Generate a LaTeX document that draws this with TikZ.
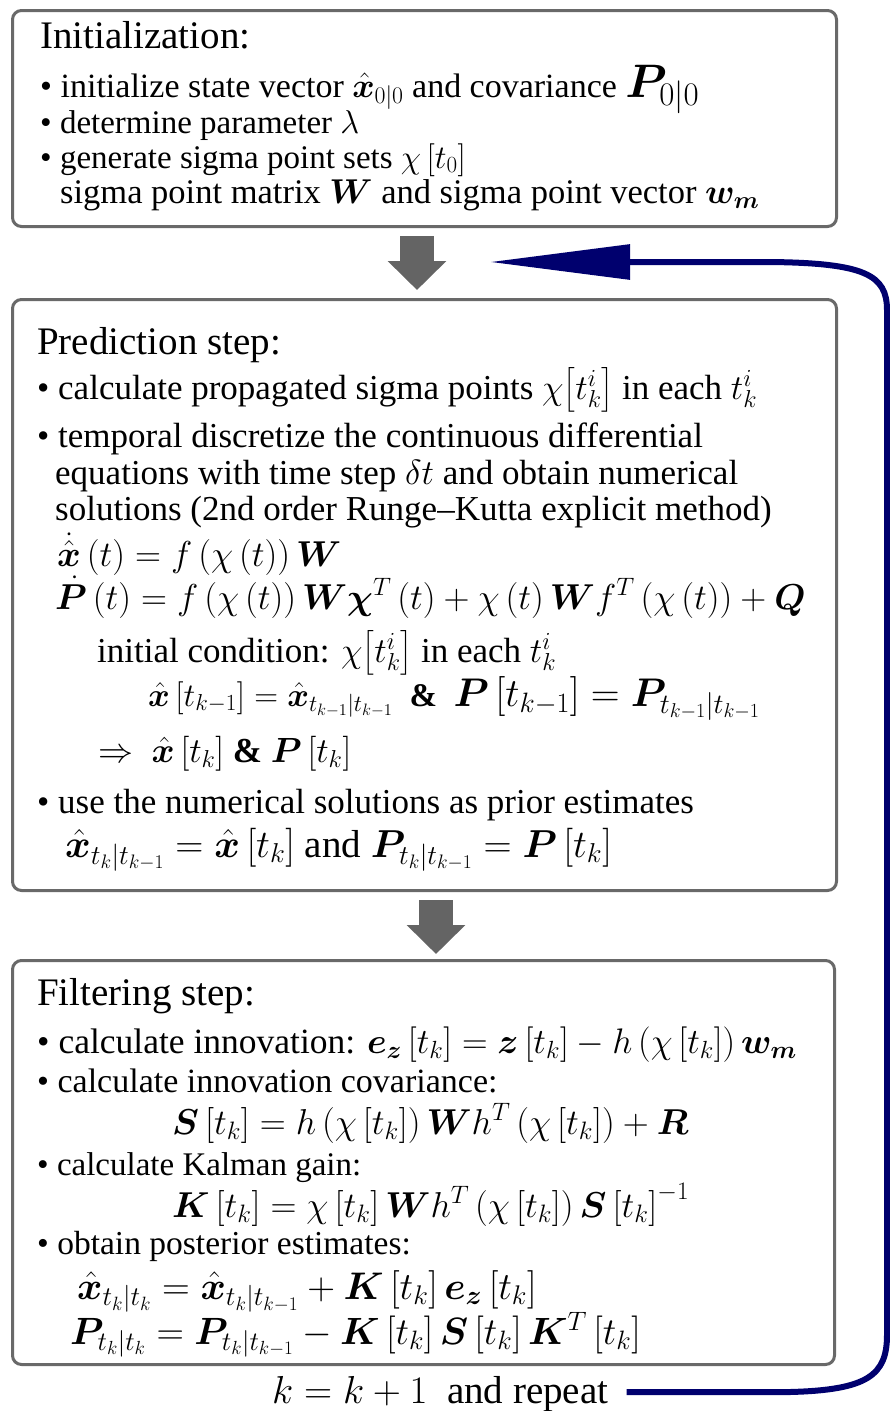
\IfFileExists{fix-cm.sty}{\RequirePackage{fix-cm}}{}
\documentclass[tikz,border=0pt]{standalone}
\usepackage{amsmath}
\usepackage{bm}
\usepackage{fontspec}
\setmainfont{Liberation Serif}
\usetikzlibrary{arrows.meta}
\definecolor{boxgray}{RGB}{105,105,105}
\definecolor{arrgray}{RGB}{100,100,100}
\definecolor{navy}{RGB}{0,0,110}
\newcommand{\sqb}[1]{\left[#1\right]}
\newcommand{\rnd}[1]{\left(#1\right)}
\newcommand{\fs}[1]{\fontsize{#1}{#1}\selectfont}
\begin{document}
\begin{tikzpicture}[x=1pt,y=-1pt,
  box/.style={draw=boxgray, line width=3pt, rounded corners=9pt, anchor=north west, inner sep=0pt},
  txt/.style={anchor=base west, inner sep=0pt, font=\fs{34}},
  ttl/.style={anchor=base west, inner sep=0pt, font=\fs{39}},
  bigarrow/.style={draw=arrgray, fill=arrgray, line width=34pt, -{Triangle[length=29pt,width=57pt]}},
  loop/.style={draw=navy, fill=none, line width=6pt, -{Triangle[length=140pt,width=34pt,fill=navy]}}
]
\useasboundingbox (0,0) rectangle (890,1411);
% boxes
\node[box, minimum width=824pt, minimum height=216pt] (b1) at (11,9) {};
\node[box, minimum width=824pt, minimum height=591pt] (b2) at (11,298) {};
\node[box, minimum width=822pt, minimum height=404pt] (b3) at (11,959) {};
% box 1 text
\node[ttl] (i0) at (40,48) {Initialization:};
\node[txt] (i1) at (40,97) {\textbullet\ initialize state vector $\hat{\bm{x}}_{0|0}$ and covariance {\fs{47}$\bm{P}_{0|0}$}};
\node[txt, font=\fs{33}] (i2) at (40,133) {\textbullet\ determine parameter $\lambda$};
\node[txt, font=\fs{33}] (i3) at (40,168) {\textbullet\ generate sigma point sets $\chi\sqb{t_0}$};
\node[txt, font=\fs{34.5}] (i4) at (60,203) {sigma point matrix $\bm{W}$ and sigma point vector $\bm{w_m}$};
% box 2 text
\node[ttl] (p0) at (37,354) {Prediction step:};
\node[txt, font=\fs{35}] (p1) at (37,399) {\textbullet\ calculate propagated sigma points $\chi\bigl[t_k^i\bigr]$ in each $t_k^i$};
\node[txt, font=\fs{35}] (p2) at (37,447) {\textbullet\ temporal discretize the continuous differential};
\node[txt, font=\fs{35}] (p3) at (55,484) {equations with time step $\delta t$ and obtain numerical};
\node[txt, font=\fs{35}] (p4) at (55,520) {solutions (2nd order Runge--Kutta explicit method)};
\node[txt, font=\fs{36}] (p5) at (57,566) {$\dot{\hat{\bm{x}}}\rnd{t} = f\rnd{\chi\rnd{t}}\bm{W}$};
\node[txt, font=\fs{36}] (p6) at (55,609) {$\dot{\bm{P}}\rnd{t} = f\rnd{\chi\rnd{t}}\bm{W}\bm{\chi}^T\rnd{t} + \chi\rnd{t}\bm{W}f^T\rnd{\chi\rnd{t}} + \bm{Q}$};
\node[txt, font=\fs{35}] (p7) at (97,662) {initial condition: $\chi\bigl[t_k^i\bigr]$ in each $t_k^i$};
\node[txt, font=\fs{33}] (p8) at (148,706) {$\hat{\bm{x}}\sqb{t_{k-1}} = \hat{\bm{x}}_{t_{k-1}|t_{k-1}}$ \ \textbf{\&} \ {\fs{40}$\bm{P}\sqb{t_{k-1}} = \bm{P}_{t_{k-1}|t_{k-1}}$}};
\node[txt, font=\fs{35}] (p9) at (98,762) {$\Rightarrow\ \hat{\bm{x}}\sqb{t_k}$ \textbf{\&} $\bm{P}\sqb{t_k}$};
\node[txt, font=\fs{35}] (p10) at (37,813) {\textbullet\ use the numerical solutions as prior estimates};
\node[txt, font=\fs{39}] (p11) at (65,857) {$\hat{\bm{x}}_{t_k|t_{k-1}} = \hat{\bm{x}}\sqb{t_k}$ and $\bm{P}_{t_k|t_{k-1}} = \bm{P}\sqb{t_k}$};
% box 3 text
\node[ttl] (f0) at (37,1005) {Filtering step:};
\node[txt, font=\fs{35.5}] (f1) at (37,1053) {\textbullet\ calculate innovation: $\bm{e_z}\sqb{t_k} = \bm{z}\sqb{t_k} - h\rnd{\chi\sqb{t_k}}\bm{w_m}$};
\node[txt] (f2) at (37,1092) {\textbullet\ calculate innovation covariance:};
\node[txt, font=\fs{36}] (f3) at (172,1134) {$\bm{S}\sqb{t_k} = h\rnd{\chi\sqb{t_k}}\bm{W}h^T\rnd{\chi\sqb{t_k}} + \bm{R}$};
\node[txt, font=\fs{33}] (f4) at (37,1175) {\textbullet\ calculate Kalman gain:};
\node[txt, font=\fs{36}] (f5) at (172,1217) {$\bm{K}\sqb{t_k} = \chi\sqb{t_k}\bm{W}h^T\rnd{\chi\sqb{t_k}}\bm{S}\sqb{t_k}^{-1}$};
\node[txt, font=\fs{33.5}] (f6) at (37,1254) {\textbullet\ obtain posterior estimates:};
\node[txt, font=\fs{38.5}] (f7) at (77,1299) {$\hat{\bm{x}}_{t_k|t_k} = \hat{\bm{x}}_{t_k|t_{k-1}} + \bm{K}\sqb{t_k}\bm{e_z}\sqb{t_k}$};
\node[txt, font=\fs{38}] (f8) at (70,1344) {$\bm{P}_{t_k|t_k} = \bm{P}_{t_k|t_{k-1}} - \bm{K}\sqb{t_k}\bm{S}\sqb{t_k}\bm{K}^T\sqb{t_k}$};
% repeat label
\node[txt, font=\fs{39}] (rep) at (272,1403) {$k = k+1$ \ and repeat};
% gray arrows
\coordinate (ax1) at (417,0);
\coordinate (ax2) at (436,0);
\draw[bigarrow, shorten <=8pt, shorten >=8pt] (b1.south -| ax1) -- (b2.north -| ax1);
\draw[bigarrow, shorten <=8pt, shorten >=5pt] (b2.south -| ax2) -- (b3.north -| ax2);
% loop connector
\coordinate (loopend) at (490,262);
\coordinate (loopy) at (0,1392);
\draw[loop] ([xshift=18pt]rep.east |- loopy) -- (790,1392)
  .. controls (868,1390) and (887,1375) .. (887,1335)
  -- (887,310)
  .. controls (887,275) and (865,263) .. (770,262)
  -- (loopend);
\end{tikzpicture}
\end{document}
